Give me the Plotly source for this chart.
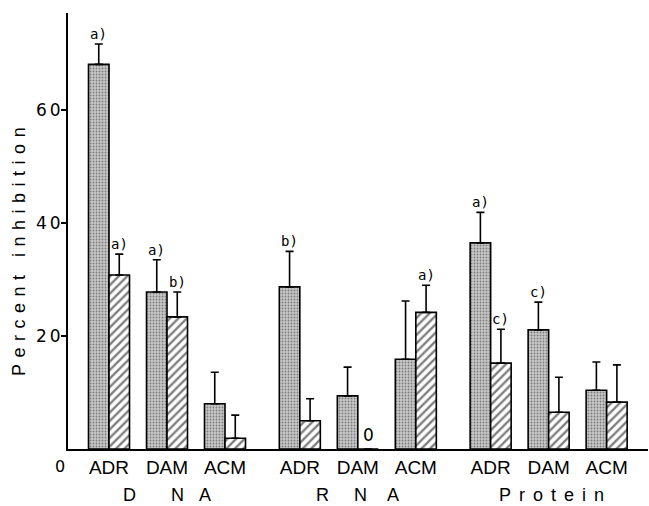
import plotly.graph_objects as go

# ---------------- data ----------------
groups = ["DNA", "RNA", "Protein"]
drugs = ["ADR", "DAM", "ACM"]

stip_vals = [68.1, 27.8, 8.0, 28.7, 9.4, 15.9, 36.5, 21.1, 10.4]
stip_err = [3.6, 5.7, 5.6, 6.3, 5.1, 10.3, 5.4, 4.9, 5.0]
hatch_vals = [30.8, 23.4, 1.9, 5.0, 0.0, 24.2, 15.2, 6.5, 8.3]
hatch_err = [3.7, 4.4, 4.1, 3.9, None, 4.8, 6.0, 6.2, 6.6]

stip_sig = ["a)", "a)", "", "b)", "", "", "a)", "c)", ""]
hatch_sig = ["a)", "b)", "", "", "", "a)", "c)", "", ""]
hatch_value_text = ["", "", "", "", "0", "", "", "", ""]

y_ticks = [20, 40, 60]
group_labels = ["D" + "\u00a0" * 7 + "N" + "\u00a0" * 3 + "A",
                "R" + "\u00a0" * 5 + "N" + "\u00a0" * 4 + "A",
                "Protein"]
y_title = "Percent inhibition"

# ---------------- layout helpers ----------------
GROUP_GAP = 0.29
BARGAP = 0.293
xpos = [g * (len(drugs) + GROUP_GAP) + d for g in range(len(groups)) for d in range(len(drugs))]
half = (1 - BARGAP) / 4.0
tick_text = drugs * len(groups)

SANS = "Liberation Sans, Arial, sans-serif"
WIDE = "DejaVu Sans, Verdana, sans-serif"
MONO = "DejaVu Sans Mono, monospace"

fig = go.Figure()
fig.add_trace(go.Bar(
    x=xpos, y=stip_vals, name="stippled",
    marker=dict(color="#c0c0c0", line=dict(color="black", width=1.6),
                pattern=dict(shape=".", fgcolor="#303030", bgcolor="#c8c8c8",
                             size=3, solidity=0.3)),
    error_y=dict(type="data", symmetric=False, array=stip_err,
                 arrayminus=[0] * len(stip_err), color="black",
                 thickness=1.6, width=4),
))
fig.add_trace(go.Bar(
    x=xpos, y=hatch_vals, name="hatched",
    marker=dict(color="white", line=dict(color="black", width=1.6),
                pattern=dict(shape="/", fgcolor="black", bgcolor="white",
                             size=6, solidity=0.4)),
    error_y=dict(type="data", symmetric=False, array=hatch_err,
                 arrayminus=[0] * len(hatch_err), color="black",
                 thickness=1.6, width=4),
))

annotations = []
for i, lab in enumerate(stip_sig):
    if lab:
        annotations.append(dict(x=xpos[i] - half, y=stip_vals[i] + stip_err[i],
                                text=lab, showarrow=False, yanchor="bottom",
                                yshift=0, font=dict(family=MONO, size=14, color="black")))
for i, lab in enumerate(hatch_sig):
    if lab:
        annotations.append(dict(x=xpos[i] + half, y=hatch_vals[i] + (hatch_err[i] or 0),
                                text=lab, showarrow=False, yanchor="bottom",
                                yshift=0, font=dict(family=MONO, size=14, color="black")))
for i, lab in enumerate(hatch_value_text):
    if lab:
        annotations.append(dict(x=xpos[i] + half, y=hatch_vals[i], text=lab,
                                showarrow=False, yanchor="bottom", yshift=2,
                                font=dict(family=WIDE, size=17, color="black")))
# origin "0"
annotations.append(dict(xref="paper", yref="paper", x=0, y=0, xshift=-8, yshift=-17,
                        text="0", showarrow=False, xanchor="center", yanchor="middle",
                        font=dict(family=WIDE, size=16, color="black")))
# group labels
for g, lab in enumerate(group_labels):
    xc = xpos[g * len(drugs) + 1]
    annotations.append(dict(x=xc, yref="paper", y=0, yshift=-46, text=lab,
                            showarrow=False, yanchor="middle", borderpad=0,
                            xshift=(7 if lab == "Protein" else 0),
                            font=dict(family=SANS, size=18, color="black")))
# y title
annotations.append(dict(xref="paper", yref="paper", x=0, xshift=-49, y=0.46,
                        text=y_title, textangle=-90, showarrow=False,
                        xanchor="center", yanchor="middle",
                        font=dict(family=SANS, size=18, color="black")))

fig.update_layout(
    width=649, height=506,
    margin=dict(l=68, r=1, t=13, b=57),
    paper_bgcolor="white", plot_bgcolor="white",
    barmode="group", bargap=BARGAP, bargroupgap=0,
    showlegend=False,
    annotations=annotations,
    xaxis=dict(range=[-0.707, 9.293], showline=True, linecolor="black", linewidth=2,
               ticks="", tickvals=xpos, ticktext=tick_text, showgrid=False,
               zeroline=False, tickfont=dict(family=SANS, size=19, color="black")),
    yaxis=dict(range=[0, 77.2], showline=True, linecolor="black", linewidth=2,
               ticks="outside", ticklen=5, tickwidth=1.5, tickcolor="black",
               tickvals=y_ticks, showgrid=False, zeroline=False,
               ticklabelstandoff=-6,
               tickfont=dict(family=WIDE, size=17, color="black")),
)

post = """
document.body.style.margin = '0';
document.body.style.padding = '0';
var gd = document.getElementById('{plot_id}');
function applySpacing(){
  gd.querySelectorAll('.annotation-text').forEach(function(t){
    var s = t.textContent;
    if (s === 'Percent inhibition') { t.style.letterSpacing = '6.5px'; }
    if (s === 'Protein') { t.style.letterSpacing = '8px'; }
  });
  gd.querySelectorAll('.ytick text').forEach(function(t){ t.style.letterSpacing = '3px'; });
}
applySpacing();
if (gd.on) { gd.on('plotly_afterplot', applySpacing); }
setTimeout(applySpacing, 30);
"""

fig.write_html("out.html", post_script=post, config={"displayModeBar": False})
